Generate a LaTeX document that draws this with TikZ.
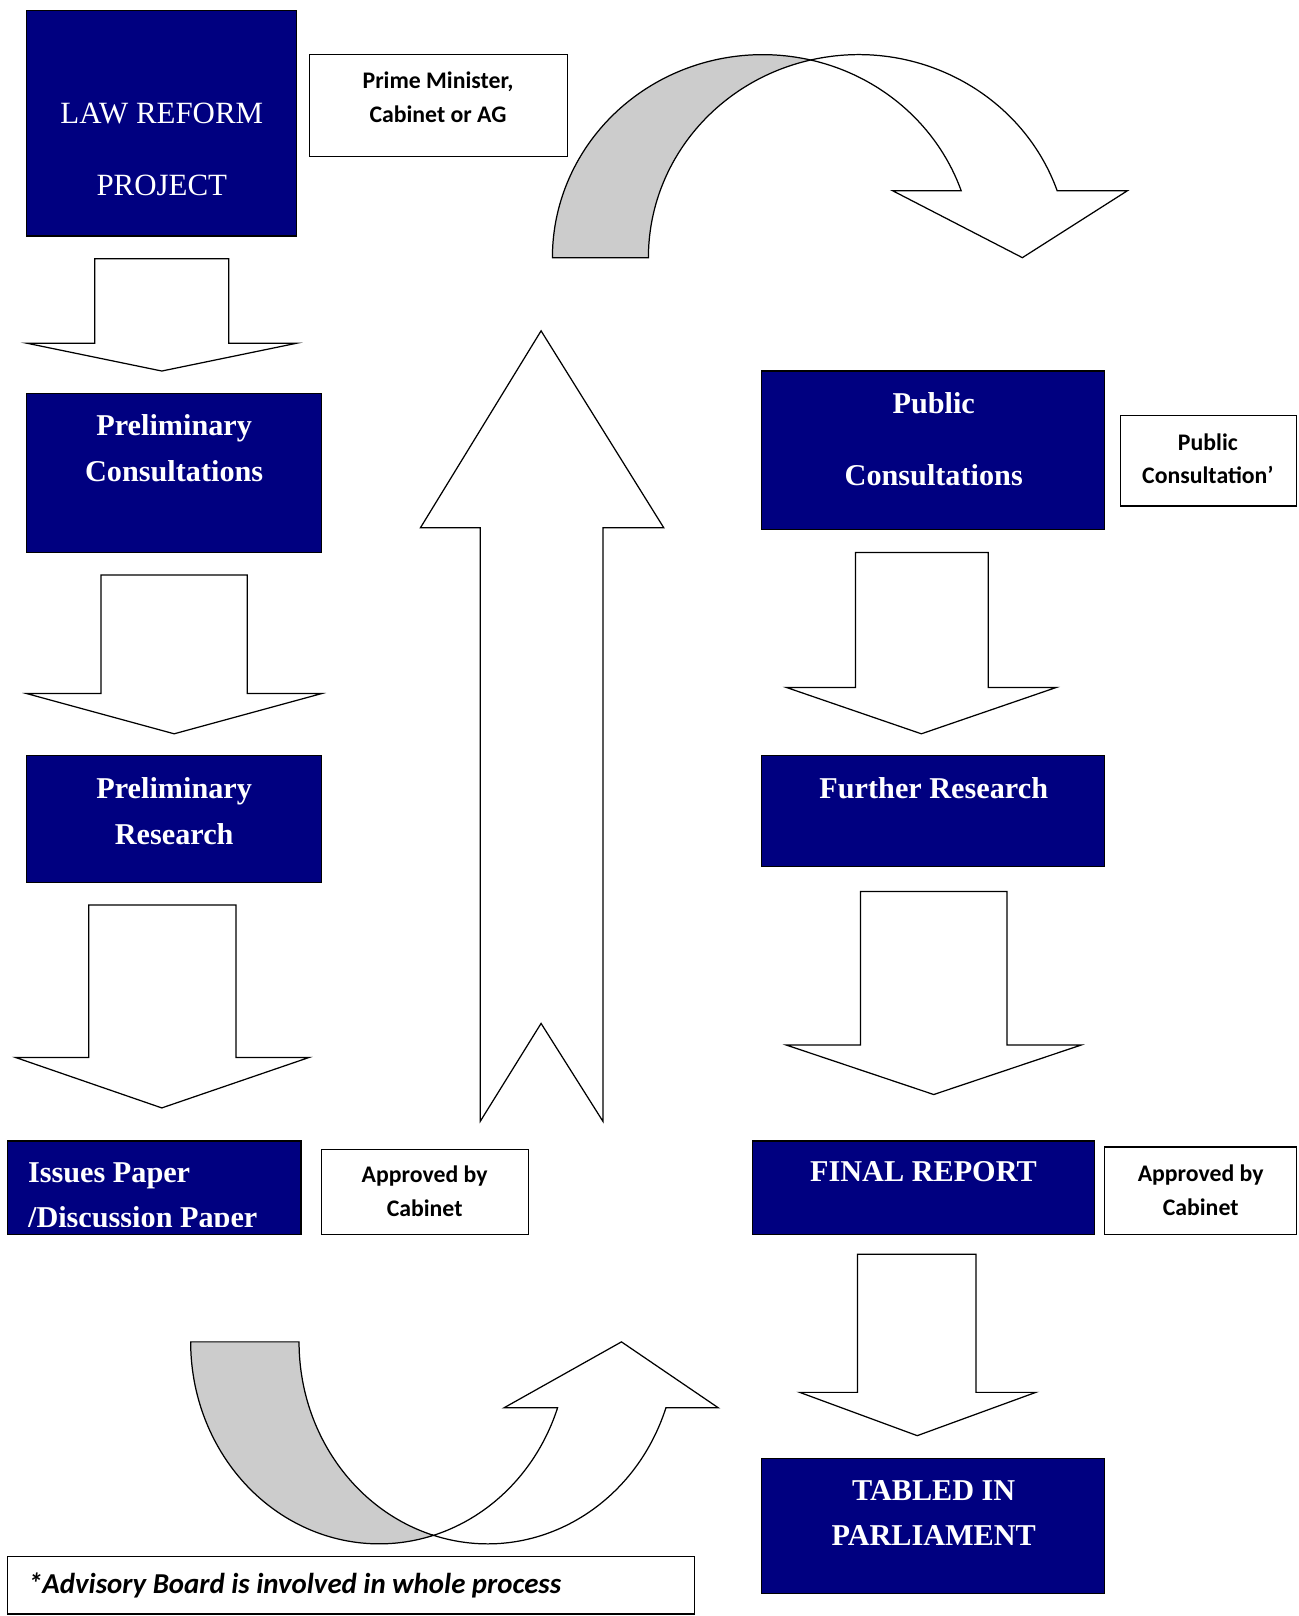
\documentclass[tikz,border=0pt]{standalone}
\usepackage{fontspec}
\setmainfont{Liberation Serif}
\newfontfamily\calibfont{Carlito}
\usetikzlibrary{fit}
\definecolor{navyblue}{RGB}{0,0,128}
\definecolor{bandgray}{RGB}{204,204,204}

\begin{document}
\begin{tikzpicture}[
  x=0.75pt, y=0.75pt,
  bluebox/.style={draw, fill=navyblue, line width=0.9pt, inner sep=0pt},
  notebox/.style={draw, fill=white, line width=0.9pt, inner sep=0pt},
  bluetext/.style={text=white, align=center, inner sep=0pt, font=\bfseries\fontsize{22}{33}\selectfont},
  notetext/.style={align=center, inner sep=0pt, font=\calibfont\bfseries\fontsize{17.3}{24.5}\selectfont},
  blockarrow/.style={draw, fill=white, line width=0.9pt, line join=miter},
  backband/.style={draw, fill=bandgray, line width=0.9pt, line join=miter}
]
\useasboundingbox (0,0) rectangle (1260,-1568);

\node[bluebox, fit={(26,-10) (288,-229)}] (lawreform) {};
\node[notebox, fit={(300,-53) (551,-152)}] (pm) {};
\node[bluebox, fit={(26,-382) (312,-536)}] (prelcons) {};
\node[bluebox, fit={(26,-733) (312,-856)}] (prelres) {};
\node[bluebox, fit={(7,-1107) (292,-1198)}] (issues) {};
\node[notebox, fit={(312,-1115) (513,-1198)}] (approvedl) {};
\node[bluebox, fit={(739,-360) (1072,-514)}] (pubcons) {};
\node[notebox, fit={(1087,-403) (1258,-491)}] (pubnote) {};
\node[bluebox, fit={(739,-733) (1072,-841)}] (further) {};
\node[bluebox, fit={(730,-1107) (1062,-1198)}] (final) {};
\node[notebox, fit={(1072,-1113) (1258,-1198)}] (approvedr) {};
\node[bluebox, fit={(739,-1415) (1072,-1546)}] (tabled) {};
\node[notebox, fit={(7,-1510) (674,-1566)}] (advisory) {};

\node[bluetext, font=\fontsize{22.5}{52.5}\selectfont] (lawreformtext) at (157,-145) {LAW REFORM\\PROJECT};
\node[bluetext] (prelconstext) at (169,-435) {Preliminary\\Consultations};
\node[bluetext] (prelrestext) at (169,-787) {Preliminary\\Research};
\begin{scope}
  \clip (7,-1107) rectangle (292,-1190);
  \node[bluetext, align=left, anchor=west] (issuestext) at (27,-1163) {Issues Paper\\/Discussion Paper};
\end{scope}
\node[bluetext, font=\bfseries\fontsize{22}{52.5}\selectfont] (pubconstext) at (906,-426) {Public\\Consultations};
\node[bluetext] (furthertext) at (906,-765) {Further Research};
\node[bluetext] (finaltext) at (896,-1137) {FINAL REPORT};
\node[bluetext] (tabledtext) at (906,-1468) {TABLED IN\\PARLIAMENT};

\node[notetext] (pmtext) at (425,-94.5) {Prime Minister,\\Cabinet or AG};
\node[notetext] (pubnotetext) at (1172,-445) {Public\\Consultation’};
\node[notetext] (approvedltext) at (412,-1156) {Approved by\\Cabinet};
\node[notetext] (approvedrtext) at (1165,-1155) {Approved by\\Cabinet};
\node[notetext, anchor=west, font=\calibfont\bfseries\itshape\fontsize{21}{25}\selectfont] (advisorytext) at (27,-1538) {*Advisory Board is involved in whole process};

\draw[blockarrow] (92,-251) -- (222,-251) -- (222,-333) -- (288,-333) -- (157,-360) -- (26,-333) -- (92,-333) -- cycle;
\draw[blockarrow] (98,-558) -- (240,-558) -- (240,-673) -- (312,-673) -- (169,-712) -- (26,-673) -- (98,-673) -- cycle;
\draw[blockarrow] (86,-878) -- (229,-878) -- (229,-1026) -- (300,-1026) -- (157,-1075) -- (15,-1026) -- (86,-1026) -- cycle;
\draw[blockarrow] (830,-536) -- (959,-536) -- (959,-667) -- (1025,-667) -- (894,-712) -- (763,-667) -- (830,-667) -- cycle;
\draw[blockarrow] (835,-865) -- (977,-865) -- (977,-1014) -- (1049,-1014) -- (906,-1062) -- (763,-1014) -- (835,-1014) -- cycle;
\draw[blockarrow] (832,-1217) -- (947,-1217) -- (947,-1351) -- (1005,-1351) -- (890,-1393) -- (776,-1351) -- (832,-1351) -- cycle;
\draw[blockarrow] (525,-321) -- (644,-512) -- (585,-512) -- (585,-1088) -- (525,-993) -- (466,-1088) -- (466,-512) -- (408,-512) -- cycle;

\draw[backband] (536,-250) arc[start angle=180, end angle=76.8, x radius=204, y radius=197]
  arc[start angle=103.2, end angle=180, x radius=204, y radius=197] -- cycle;
\draw[blockarrow] (786.6,-58.2) arc[start angle=103.2, end angle=19.27, x radius=204, y radius=197]
  -- (1094,-185) -- (992,-250) -- (866,-185) -- (932.6,-185)
  arc[start angle=19.27, end angle=76.8, x radius=204, y radius=197] -- cycle;

\draw[backband] (185,-1302) arc[start angle=180, end angle=286.7, x radius=183, y radius=196]
  arc[start angle=253.3, end angle=180, x radius=183, y radius=196] -- cycle;
\draw[blockarrow] (420.6,-1489.7) arc[start angle=253.3, end angle=340.94, x radius=183, y radius=196]
  -- (697,-1366) -- (603,-1302) -- (489,-1366) -- (541,-1366)
  arc[start angle=340.94, end angle=286.7, x radius=183, y radius=196] -- cycle;
\end{tikzpicture}
\end{document}
